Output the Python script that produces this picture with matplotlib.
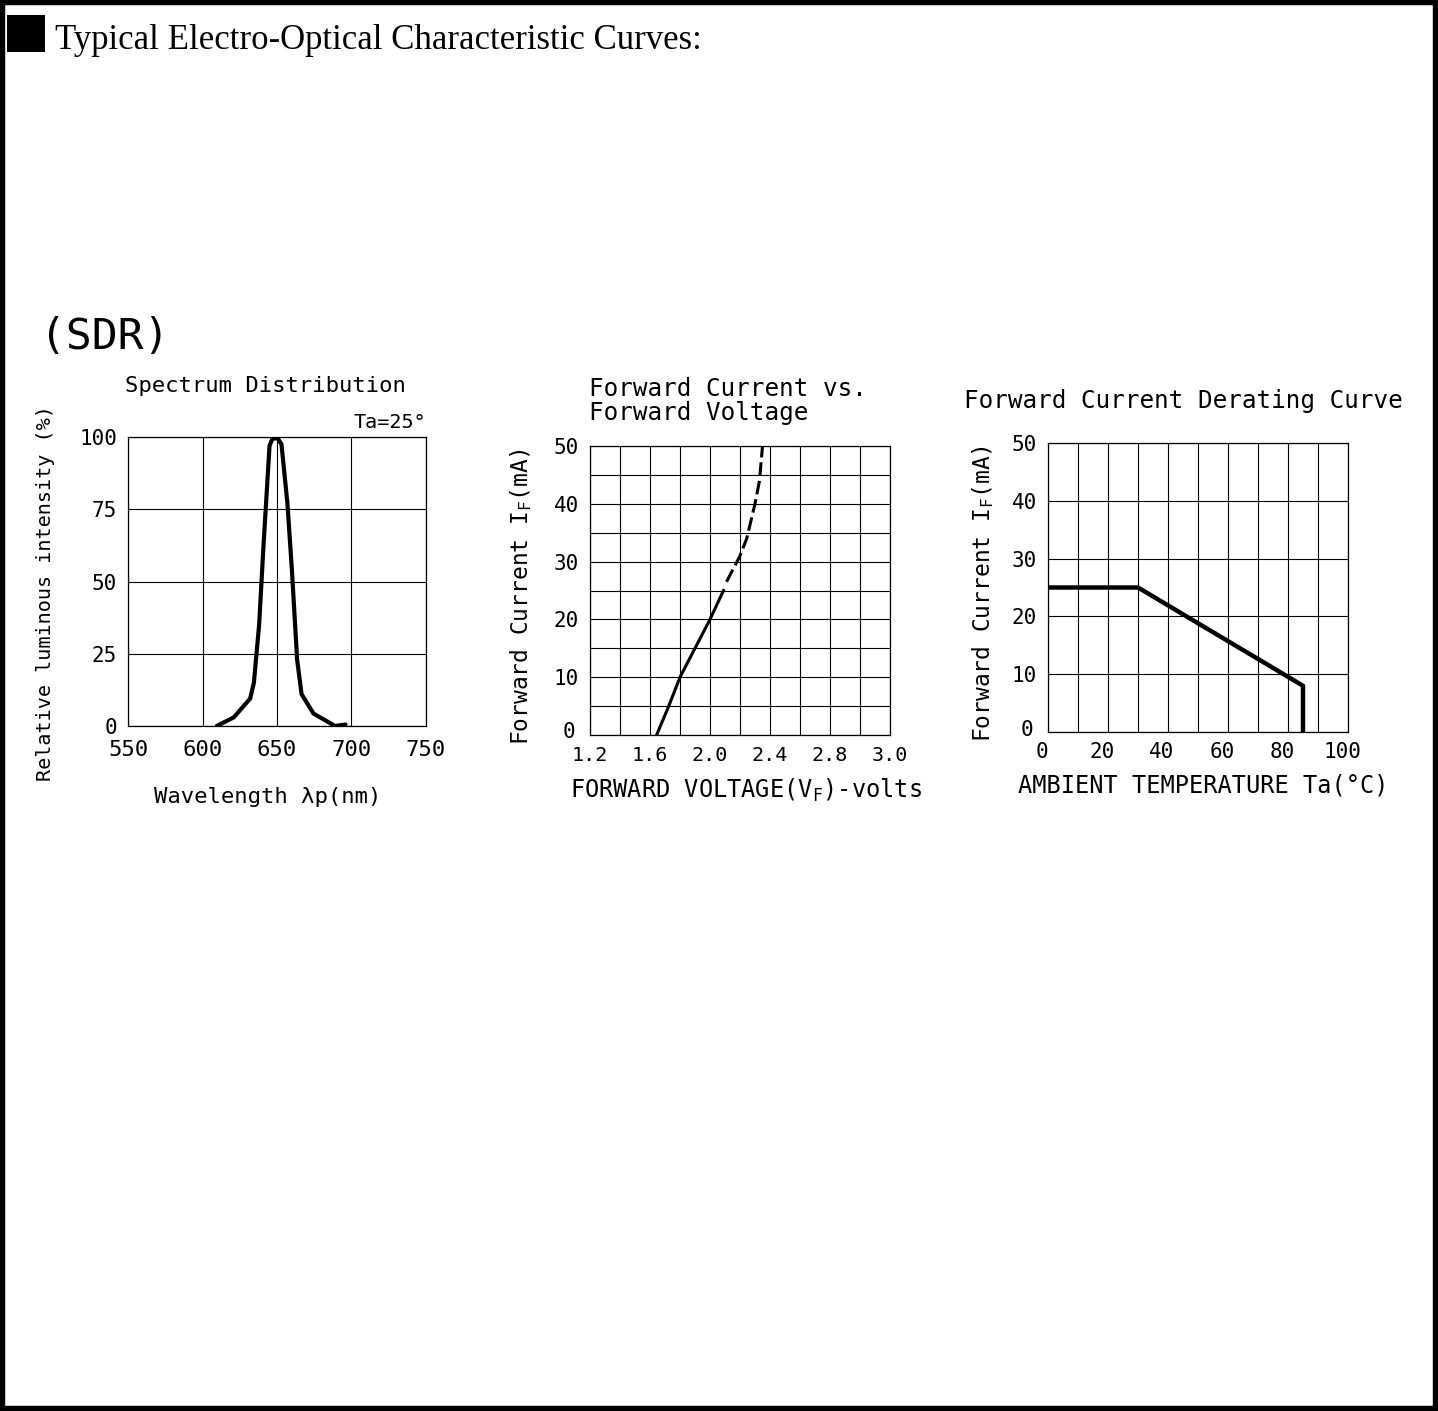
import matplotlib
matplotlib.use("Agg")
import matplotlib.pyplot as plt
import matplotlib.transforms as mtransforms
from matplotlib.patches import Rectangle

# spectrum distribution
spec_wl = [609.6, 621, 632, 634.5, 638, 641, 645, 647, 650.5, 653, 657, 660, 663.5, 666.5, 674.5, 689, 696]
spec_rel = [0, 3, 9.5, 15, 35, 63, 97, 99.5, 99.5, 97.5, 77, 54, 23, 11, 4.3, 0, 0.5]
spec_xticks = [550, 600, 650, 700, 750]
spec_yticks = [0, 25, 50, 75, 100]

# forward current vs forward voltage (solid part + dashed part)
vf_solid = [1.644, 1.725, 1.8, 1.9, 2.0, 2.09]
if_solid = [0, 5, 10, 15, 20, 25]
vf_dash = [2.11, 2.2, 2.245, 2.3, 2.33, 2.35]
if_dash = [26.5, 31, 34, 40, 44, 50]
vf_ticks = [1.2, 1.6, 2.0, 2.4, 2.8, 3.2]
vf_labels = ["1.2", "1.6", "2.0", "2.4", "2.8", "3.0"]
if_ticks = [0, 10, 20, 30, 40, 50]

# derating curve
temp = [0, 30, 85, 85]
cur = [25, 25, 8, 0]
temp_ticks = [0, 20, 40, 60, 80, 100]

W, H = 1438, 1411
CAD = "DejaVu Sans Mono"
plt.rcParams["font.family"] = CAD
plt.rcParams["mathtext.fontset"] = "custom"
plt.rcParams["mathtext.rm"] = CAD

fig = plt.figure(figsize=(W / 100, H / 100), dpi=100)


def fx(px):
    return px / W


def fy(py):
    return 1 - py / H


def nudge(label, dx, dy):
    # shift a text by some pixels (dy positive = up)
    off = mtransforms.ScaledTranslation(dx / 100, dy / 100, fig.dpi_scale_trans)
    label.set_transform(label.get_transform() + off)


def make_ax(left, top, right, bottom):
    ax = fig.add_axes([fx(left), fy(bottom), (right - left) / W, (bottom - top) / H])
    for s in ax.spines.values():
        s.set_linewidth(0.9)
    ax.tick_params(which="both", length=0, labelsize=15, pad=8)
    ax.grid(True, which="both", color="black", linewidth=0.8)
    ax.set_axisbelow(True)
    return ax


# frame + header
fig.patches.append(Rectangle((0, 0), 1, 1, transform=fig.transFigure, fill=False,
                             edgecolor="black", linewidth=7.5))
fig.patches.append(Rectangle((fx(7), fy(52)), 38 / W, 37 / H, transform=fig.transFigure,
                             facecolor="black", edgecolor="none"))
fig.text(fx(55), fy(49), "Typical Electro-Optical Characteristic Curves:",
         family="Liberation Serif", fontsize=25, va="baseline", ha="left")
fig.text(fx(40), fy(337), "(SDR)", fontsize=31, va="center", ha="left")

# chart 1
ax1 = make_ax(128, 437, 426, 726)
ax1.plot(spec_wl, spec_rel, color="black", linewidth=3.0, solid_joinstyle="round",
         solid_capstyle="round")
ax1.set_xlim(550, 750)
ax1.set_ylim(0, 100)
ax1.set_xticks(spec_xticks)
ax1.set_yticks(spec_yticks)
ax1.tick_params(axis="x", pad=10, labelsize=16)
fig.text(fx(265), fy(386), "Spectrum Distribution", fontsize=16, ha="center", va="center")
fig.text(fx(426), fy(423), "Ta=25°", fontsize=14.5, ha="right", va="center")
fig.text(fx(46), fy(593), "Relative luminous intensity (%)", fontsize=14.5,
         rotation=90, ha="center", va="center")
fig.text(fx(268), fy(797), "Wavelength λp(nm)", fontsize=16, ha="center", va="center")

# chart 2
ax2 = make_ax(590, 446, 890, 735)
ax2.plot(vf_solid, if_solid, color="black", linewidth=2.2)
ax2.plot(vf_dash, if_dash, color="black", linewidth=2.2, linestyle=(0, (4.5, 1.6)))
ax2.set_xlim(1.2, 3.2)
ax2.set_ylim(0, 50)
ax2.set_xticks(vf_ticks)
ax2.set_xticklabels(vf_labels)
ax2.set_xticks([1.2 + 0.2 * i for i in range(11)], minor=True)
ax2.set_yticks(if_ticks)
ax2.set_yticks([5 * i for i in range(11)], minor=True)
ax2.tick_params(axis="x", pad=8, labelsize=14.5)
nudge(ax2.get_yticklabels()[0], -4, 5)
fig.text(fx(589), fy(389), "Forward Current vs.", fontsize=17.5, ha="left", va="center")
fig.text(fx(589), fy(413), "Forward Voltage", fontsize=17.5, ha="left", va="center")
fig.text(fx(521), fy(596), "Forward Current I$_\\mathregular{F}$(mA)", fontsize=16.5,
         rotation=90, ha="center", va="center")
fig.text(fx(746), fy(790), "FORWARD VOLTAGE(V$_\\mathregular{F}$)-volts", fontsize=17,
         ha="center", va="center")

# chart 3
ax3 = make_ax(1048, 443, 1348, 732)
ax3.plot(temp, cur, color="black", linewidth=3.2)
ax3.set_xlim(0, 100)
ax3.set_ylim(0, 50)
ax3.set_xticks(temp_ticks)
ax3.set_xticks(range(0, 101, 10), minor=True)
ax3.set_yticks(if_ticks)
ax3.tick_params(axis="x", pad=7)
for lab in ax3.get_xticklabels():
    nudge(lab, -6, 0)
nudge(ax3.get_yticklabels()[0], -4, 4)
fig.text(fx(1183), fy(401), "Forward Current Derating Curve", fontsize=17.5,
         ha="center", va="center")
fig.text(fx(983), fy(593), "Forward Current I$_\\mathregular{F}$(mA)", fontsize=16.5,
         rotation=90, ha="center", va="center")
fig.text(fx(1203), fy(786), "AMBIENT TEMPERATURE Ta(°C)", fontsize=17,
         ha="center", va="center")

fig.savefig("out.png", dpi=100)
